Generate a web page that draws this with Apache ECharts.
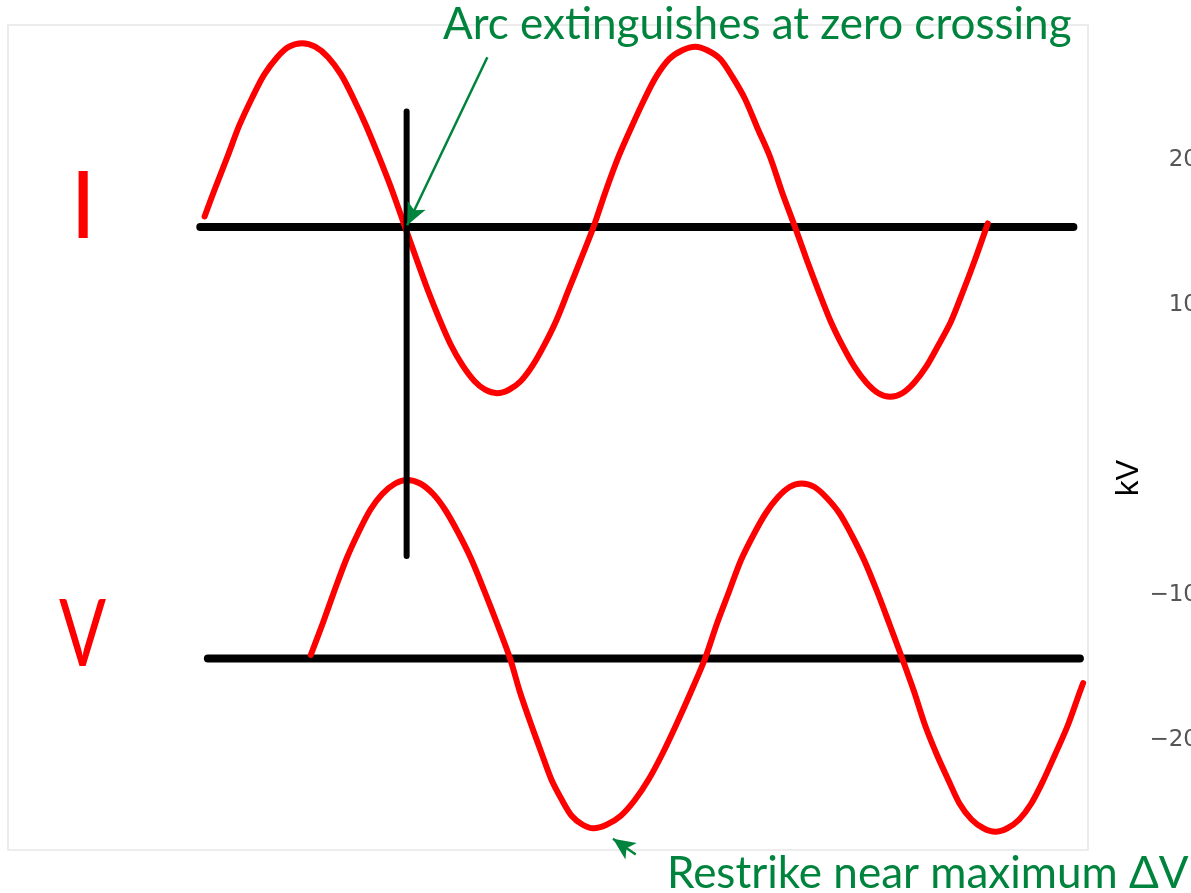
<!DOCTYPE html>
<html>
<head>
<meta charset="utf-8">
<script src="https://cdn.jsdelivr.net/npm/echarts@6/dist/echarts.min.js"></script>
<style>
  html, body { margin: 0; padding: 0; background: #ffffff; }
  #chart { width: 1191px; height: 893px; }
</style>
</head>
<body>
<div id="chart"></div>
<script>
// Current and voltage across a breaker contact: x = electrical angle (deg), y = per unit
const iCurve = [
  [-5, 0.06], [4, 0.21], [16, 0.40], [27, 0.58], [39, 0.74], [50, 0.87], [62, 0.97], [73, 1.03], [85, 1.05],
  [97, 1.03], [109, 0.97], [121, 0.87], [132, 0.74], [144, 0.58], [156, 0.40], [168, 0.21], [180, 0.00],
  [191, -0.19], [201, -0.36], [212, -0.53], [222, -0.67], [233, -0.79], [244, -0.88], [254, -0.93], [265, -0.95],
  [276, -0.93], [287, -0.88], [298, -0.79], [309, -0.67], [320, -0.53], [331, -0.36], [342, -0.19], [354, 0.00],
  [365, 0.20], [377, 0.40], [389, 0.57], [401, 0.73], [412, 0.86], [424, 0.96], [436, 1.01], [448, 1.03],
  [459, 1.01], [471, 0.96], [482, 0.86], [494, 0.73], [505, 0.57], [517, 0.40], [528, 0.20], [540, 0.00],
  [551, -0.19], [562, -0.37], [573, -0.54], [584, -0.68], [595, -0.80], [606, -0.89], [617, -0.95], [628, -0.97],
  [639, -0.95], [650, -0.89], [661, -0.80], [672, -0.68], [684, -0.54], [695, -0.37], [706, -0.19], [718, 0.02]
];
const vCurve = [
  [93, 0.02], [104, 0.20], [115, 0.39], [126, 0.57], [137, 0.72], [148, 0.85], [159, 0.94], [171, 1.00], [182, 1.02],
  [194, 1.00], [206, 0.94], [217, 0.85], [229, 0.72], [241, 0.57], [253, 0.39], [265, 0.20], [277, 0.00],
  [286, -0.19], [296, -0.37], [306, -0.54], [315, -0.69], [325, -0.81], [334, -0.90], [344, -0.95], [354, -0.97],
  [366, -0.95], [379, -0.90], [392, -0.81], [405, -0.69], [418, -0.54], [431, -0.37], [444, -0.19], [457, 0.00],
  [468, 0.20], [479, 0.38], [490, 0.56], [502, 0.71], [513, 0.83], [524, 0.92], [535, 0.98], [546, 1.00],
  [558, 0.98], [569, 0.92], [581, 0.83], [592, 0.71], [604, 0.56], [616, 0.38], [627, 0.20], [639, 0.00],
  [650, -0.19], [660, -0.38], [671, -0.55], [682, -0.70], [692, -0.83], [703, -0.92], [714, -0.97], [725, -0.99],
  [736, -0.97], [747, -0.92], [758, -0.83], [769, -0.70], [780, -0.55], [792, -0.38], [803, -0.19], [806, -0.14]
];
// zero reference lines and the instant of current zero
const iZeroLine = [[-9, 0], [797, 0]];
const vZeroLine = [[-2, 0], [803, 0]];
const currentZeroMarker = [[181.5, 0.66], [181.5, -1.88]];
// annotation arrows: [tail, head]
const arcArrow = [[256, 0.97], [182, 0.01]];
const restrikeArrow = [[393, -1.12], [372, -1.03]];
// kV scale on the right
const kvMin = -30;
const kvMax = 26.14;
const kvStep = 10;
const angleRange = [-186.5, 810.5];
const iRange = [-3.56, 1.154];
const vRange = [-1.34, 3.62];

const RED = '#ff0000';
const GREEN = '#00843d';
const BLACK = '#000000';

const chart = echarts.init(document.getElementById('chart'), null, { renderer: 'canvas' });

const hiddenX = (gridIndex) => ({
  type: 'value', gridIndex, min: angleRange[0], max: angleRange[1], show: false
});
const hiddenY = (gridIndex, range) => ({
  type: 'value', gridIndex, min: range[0], max: range[1], show: false
});

const arrowMark = (pair) => ({
  silent: true,
  animation: false,
  symbol: ['none', 'arrow'],
  symbolSize: [15, 22],
  label: { show: false },
  emphasis: { disabled: true },
  lineStyle: { color: GREEN, width: 2.5, type: 'solid' },
  data: [[{ coord: pair[0] }, { coord: pair[1] }]]
});

chart.setOption({
  animation: false,
  backgroundColor: '#ffffff',
  grid: [
    { left: 8, right: 103, top: 25, bottom: 43, show: true, borderColor: '#ececec', borderWidth: 2,
      backgroundColor: 'transparent', outerBoundsMode: 'none' },
    { left: 8, right: 103, top: 25, bottom: 0, show: false, outerBoundsMode: 'none' },
    { left: 8, right: 103, top: 71, bottom: 8, show: false, outerBoundsMode: 'none' }
  ],
  xAxis: [
    hiddenX(0),
    hiddenX(1),
    { type: 'value', gridIndex: 2, min: 0, max: 1, show: false }
  ],
  yAxis: [
    hiddenY(0, iRange),
    hiddenY(1, vRange),
    {
      type: 'value', gridIndex: 2, position: 'right',
      min: kvMin, max: kvMax, interval: kvStep,
      name: 'kV', nameLocation: 'middle', nameRotate: 90, nameGap: 26, nameMoveOverlap: false,
      nameTextStyle: { color: BLACK, fontSize: 31, fontFamily: 'Liberation Sans' },
      axisLine: { show: false }, axisTick: { show: false }, splitLine: { show: false },
      axisLabel: {
        showMinLabel: false, showMaxLabel: false, hideOverlap: false,
        align: 'right', margin: 110,
        color: '#555555', fontSize: 23, fontFamily: 'DejaVu Sans',
        formatter: (v) => v === 0 ? '' : (v < 0 ? '\u2212' + Math.abs(v) : String(v))
      }
    }
  ],
  series: [
    {
      name: 'I zero', type: 'line', xAxisIndex: 0, yAxisIndex: 0, data: iZeroLine,
      symbol: 'none', silent: true, clip: false, z: 2,
      lineStyle: { color: BLACK, width: 8, cap: 'round' },
      markLine: arrowMark(arcArrow)
    },
    {
      name: 'I', type: 'line', xAxisIndex: 0, yAxisIndex: 0, data: iCurve,
      symbol: 'none', silent: true, smooth: 0.3, z: 3,
      lineStyle: { color: RED, width: 6, cap: 'round', join: 'round' }
    },
    {
      name: 'V zero', type: 'line', xAxisIndex: 1, yAxisIndex: 1, data: vZeroLine,
      symbol: 'none', silent: true, clip: false, z: 2,
      lineStyle: { color: BLACK, width: 8, cap: 'round' },
      markLine: arrowMark(restrikeArrow)
    },
    {
      name: 'V', type: 'line', xAxisIndex: 1, yAxisIndex: 1, data: vCurve,
      symbol: 'none', silent: true, smooth: 0.3, z: 3,
      lineStyle: { color: RED, width: 6, cap: 'round', join: 'round' }
    },
    {
      name: 'current zero', type: 'line', xAxisIndex: 0, yAxisIndex: 0, data: currentZeroMarker,
      symbol: 'none', silent: true, clip: false, z: 4,
      lineStyle: { color: BLACK, width: 6, cap: 'round' }
    }
  ],
  graphic: [
    {
      type: 'text', x: 443, y: 3, z: 10,
      style: { text: 'Arc extinguishes at zero crossing', fill: GREEN, font: '44px Lato' }
    },
    {
      type: 'text', x: 667, y: 852, z: 10,
      style: { text: 'Restrike near maximum \u0394V', fill: GREEN, font: '44px Lato' }
    },
    {
      type: 'text', x: 70, y: 161, z: 10,
      style: { text: 'I', fill: RED, font: '94px Lato' }
    },
    {
      type: 'text', x: 59, y: 589, scaleX: 0.74, z: 10,
      style: { text: 'V', fill: RED, font: '94px Lato' }
    }
  ]
});
</script>
</body>
</html>
